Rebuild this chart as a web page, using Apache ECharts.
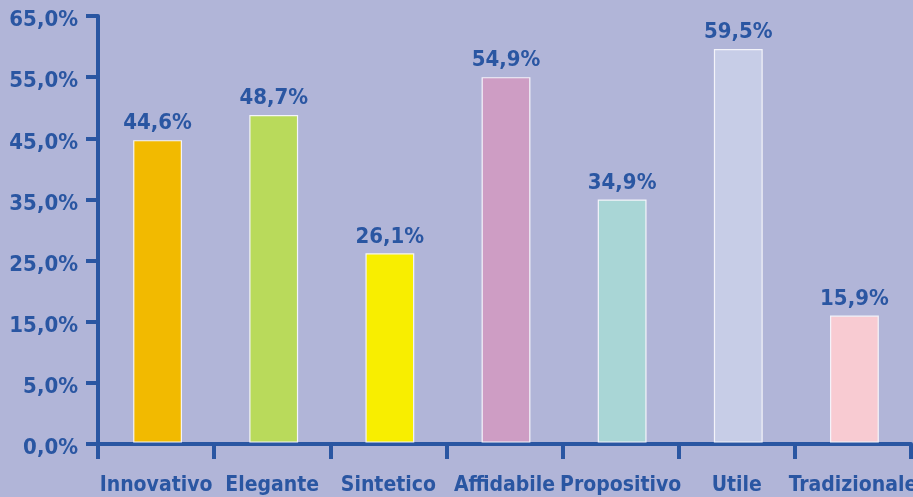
<!DOCTYPE html>
<html>
<head>
<meta charset="utf-8">
<script src="https://cdn.jsdelivr.net/npm/echarts@6/dist/echarts.min.js"></script>
<style>
  html, body { margin: 0; padding: 0; background: #B1B5D8; }
  #chart { width: 913px; height: 497px; }
</style>
</head>
<body>
<div id="chart"></div>
<script>
// Survey answers: share of respondents choosing each adjective
const categories = ['Innovativo', 'Elegante', 'Sintetico', 'Affidabile', 'Propositivo', 'Utile', 'Tradizionale'];
const values = [44.6, 48.7, 26.1, 54.9, 34.9, 59.5, 15.9];
const barColors = ['#F2BA00', '#B9DA5B', '#F8EE00', '#CE9DC4', '#A9D6D6', '#C7CDE7', '#F8CBD2'];

// Value axis: the lowest tick stands for the zero line, ticks above it run 5,15,...,65
const yMin = -5, yMax = 65, yStep = 10;
const yTickLabels = ['0,0%', '5,0%', '15,0%', '25,0%', '35,0%', '45,0%', '55,0%', '65,0%'];

const blue = '#2A56A2';
const fontFamily = '"DejaVu Sans Condensed", "Liberation Sans Narrow", "Open Sans", sans-serif';

const fmt = v => v.toFixed(1).replace('.', ',') + '%';

const chart = echarts.init(document.getElementById('chart'), null, { renderer: 'canvas' });

chart.setOption({
  backgroundColor: '#B1B5D8',
  animation: false,
  grid: { left: 98, right: 2, top: 16, bottom: 53, containLabel: false, outerBoundsMode: 'none' },
  xAxis: {
    type: 'category',
    data: categories,
    boundaryGap: true,
    axisLine: { show: true, onZero: false, lineStyle: { color: blue, width: 4 } },
    axisTick: { show: true, length: 15, lineStyle: { color: blue, width: 4 } },
    axisLabel: {
      color: blue, fontFamily, fontSize: 21, fontWeight: 'bold', margin: 31,
      interval: 0, hideOverlap: false
    },
    splitLine: { show: false }
  },
  yAxis: {
    type: 'value',
    min: yMin, max: yMax, interval: yStep,
    axisLine: { show: true, lineStyle: { color: blue, width: 4 } },
    axisTick: { show: true, length: 12, lineStyle: { color: blue, width: 4 } },
    axisLabel: {
      color: blue, fontFamily, fontSize: 22, fontWeight: 'bold', margin: 20,
      formatter: v => '{t|' + yTickLabels[Math.round((v - yMin) / yStep)] + '}',
      rich: {
        t: { color: blue, fontFamily, fontSize: 22, fontWeight: 'bold', padding: [9, 0, 0, 0] }
      }
    },
    splitLine: { show: false }
  },
  series: [{
    type: 'custom',
    data: values.map((v, i) => [i, v]),
    encode: { x: 0, y: 1 },
    z: 1,
    renderItem(params, api) {
      const idx = api.value(0);
      const v = api.value(1);
      const top = api.coord([idx, v]);
      const base = api.coord([idx, yMin]);
      const w = api.size([1, 0])[0] * 0.41;
      const cx = top[0] + 1.5;
      return {
        type: 'group',
        children: [
          {
            type: 'rect',
            shape: { x: cx - w / 2, y: top[1], width: w, height: base[1] - top[1] - 2 },
            style: { fill: barColors[idx], stroke: '#F4F4FA', lineWidth: 1.2 }
          },
          {
            type: 'text',
            style: {
              text: fmt(v), x: cx, y: top[1] - 6,
              align: 'center', verticalAlign: 'bottom',
              fill: blue, fontFamily, fontSize: 22, fontWeight: 'bold'
            }
          }
        ]
      };
    }
  }]
});
</script>
</body>
</html>
